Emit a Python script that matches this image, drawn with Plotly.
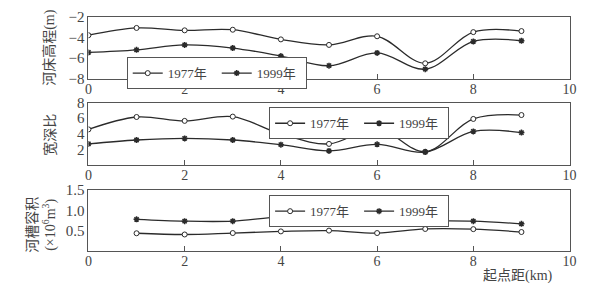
import plotly.graph_objects as go

# ---- data ----
dist_a = [0, 1, 2, 3, 4, 5, 6, 7, 8, 9]
bed_1977 = [-3.8, -3.1, -3.33, -3.27, -4.2, -4.73, -3.9, -6.5, -3.5, -3.4]
bed_1999 = [-5.45, -5.2, -4.73, -5.03, -5.8, -6.73, -5.5, -7.06, -4.4, -4.33]

wd_1977 = [4.56, 6.15, 5.65, 6.2, 3.97, 2.7, 4.7, 1.7, 5.9, 6.4]
wd_1999 = [2.7, 3.2, 3.4, 3.2, 2.6, 1.8, 2.65, 1.65, 4.3, 4.15]

dist_c = [1, 2, 3, 4, 5, 6, 7, 8, 9]
vol_1977 = [0.445, 0.415, 0.45, 0.49, 0.51, 0.45, 0.55, 0.545, 0.475]
vol_1999 = [0.785, 0.74, 0.74, 0.84, 0.79, 0.745, 0.745, 0.74, 0.675]

years = ["1977年", "1999年"]
x_ticks = [0, 2, 4, 6, 8, 10]

FONT = "Liberation Serif, Noto Sans CJK SC, serif"
LINE = "#2b2b2b"
AX = "#555555"
TXT = "#444444"

fig = go.Figure()

panels = [
    (dist_a, bed_1977, bed_1999, "x", "y", "legend"),
    (dist_a, wd_1977, wd_1999, "x2", "y2", "legend2"),
    (dist_c, vol_1977, vol_1999, "x3", "y3", "legend3"),
]
for xs, a, b, xa, ya, lg in panels:
    fig.add_trace(go.Scatter(
        x=xs, y=a, name=years[0], xaxis=xa, yaxis=ya, legend=lg,
        mode="lines+markers", line=dict(color=LINE, width=1.3, shape="spline", smoothing=1),
        marker=dict(symbol="circle", size=5, color="white", line=dict(color=LINE, width=1))))
    fig.add_trace(go.Scatter(
        x=xs, y=b, name=years[1], xaxis=xa, yaxis=ya, legend=lg,
        mode="lines+markers", line=dict(color=LINE, width=1.3, shape="spline", smoothing=1),
        marker=dict(symbol="asterisk-open", size=5, color=LINE, line=dict(color=LINE, width=1.5))))

W, H = 606, 294
xdom = [86 / W, 576 / W]
doms = [[(H - 75) / H, (H - 9) / H], [(H - 166) / H, (H - 100) / H], [(H - 257.5) / H, (H - 192.5) / H]]

xcommon = dict(range=[0, 10], tickvals=x_ticks, ticks="inside", ticklen=5, tickcolor=AX,
               showline=True, linecolor=AX, linewidth=1, mirror=True, showgrid=False,
               zeroline=False, tickfont=dict(family=FONT, size=14, color=TXT), domain=xdom,
               ticklabelstandoff=-3)
ycommon = dict(showline=True, linecolor=AX, linewidth=1, mirror=True, showgrid=False,
               zeroline=False, ticks="", tickfont=dict(family=FONT, size=15, color=TXT))

fig.update_layout(
    width=W, height=H, margin=dict(l=0, r=0, t=0, b=0),
    paper_bgcolor="white", plot_bgcolor="white",
    font=dict(family=FONT, color=TXT),
    xaxis=dict(**xcommon, anchor="y"),
    xaxis2=dict(**xcommon, anchor="y2"),
    xaxis3=dict(**xcommon, anchor="y3"),
    yaxis=dict(**ycommon, domain=doms[0], range=[-8, -2], tickvals=[-2, -4, -6, -8], anchor="x"),
    yaxis2=dict(**ycommon, domain=doms[1], range=[0, 8], tickvals=[2, 4, 6, 8], anchor="x2"),
    yaxis3=dict(**ycommon, domain=doms[2], range=[0, 1.5], tickvals=[0.5, 1.0, 1.5],
                tickformat=".1f", anchor="x3"),
)

legend_common = dict(orientation="h", bgcolor="white", bordercolor=AX, borderwidth=1,
                     font=dict(family=FONT, size=13, color=TXT), itemwidth=30,
                     entrywidth=44, entrywidthmode="pixels",
                     xanchor="left", yanchor="top", tracegroupgap=0)
fig.update_layout(
    legend=dict(**legend_common, x=125 / W, y=1 - 52 / H),
    legend2=dict(**legend_common, x=270 / W, y=1 - 105 / H),
    legend3=dict(**legend_common, x=270 / W, y=1 - 198 / H),
)

ann = [
    dict(text="河床高程(m)", x=47 / W, y=1 - 42 / H, textangle=-90),
    dict(text="宽深比", x=47 / W, y=1 - 134 / H, textangle=-90),
    dict(text="河槽容积<br>(×10<sup>6</sup>m<sup>3</sup>)", x=38 / W, y=1 - 229 / H, textangle=-90),
    dict(text="起点距(km)", x=524 / W, y=1 - 283 / H, textangle=0),
]
for a in ann:
    fig.add_annotation(xref="paper", yref="paper", showarrow=False,
                       xanchor="center", yanchor="middle",
                       font=dict(family=FONT, size=14, color=TXT), **a)

fig.write_html("out.html")
